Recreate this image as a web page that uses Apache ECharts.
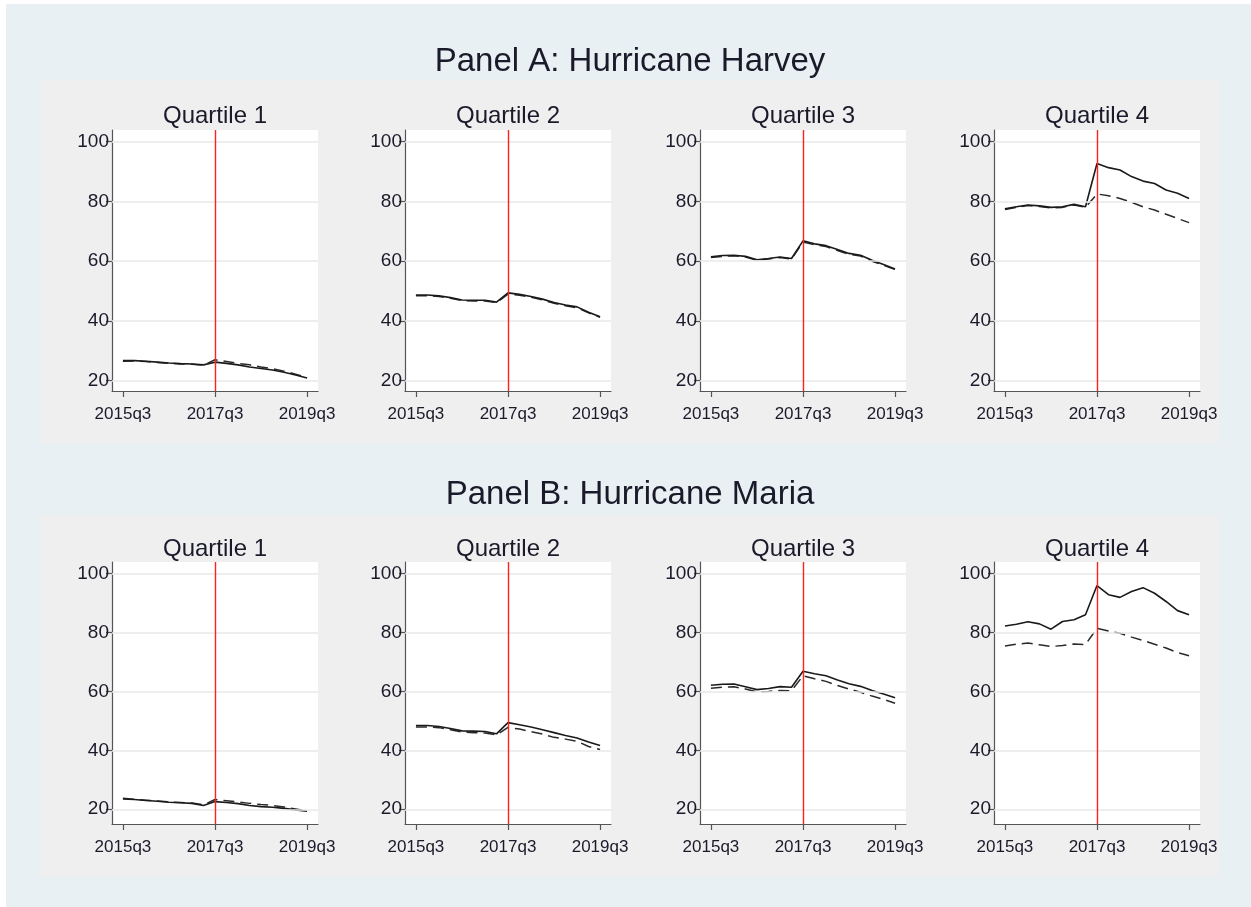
<!DOCTYPE html>
<html>
<head>
<meta charset="utf-8">
<script src="https://cdn.jsdelivr.net/npm/echarts@6/dist/echarts.min.js"></script>
<style>
html,body{margin:0;padding:0;background:#ffffff;}
#chart{width:1251px;height:907px;}
</style>
</head>
<body>
<div id="chart"></div>
<script>
// ---- data ----
const quarters = ['2015q3','2015q4','2016q1','2016q2','2016q3','2016q4','2017q1','2017q2','2017q3','2017q4','2018q1','2018q2','2018q3','2018q4','2019q1','2019q2','2019q3'];
const xTickLabels = ['2015q3','2017q3','2019q3'];
const yTickValues = [20, 40, 60, 80, 100];
const eventQuarter = '2017q3';
const panelTitles = ['Panel A: Hurricane Harvey', 'Panel B: Hurricane Maria'];
const quartileTitles = ['Quartile 1', 'Quartile 2', 'Quartile 3', 'Quartile 4'];

// Panel A: Hurricane Harvey
const harveyQ1Solid  = [26.7, 26.7, 26.5, 26.2, 25.9, 25.7, 25.6, 25.3, 26.2, 25.8, 25.3, 24.6, 24.1, 23.6, 22.8, 21.9, 20.9];
const harveyQ1Dashed = [26.5, 26.6, 26.4, 26.1, 25.8, 25.6, 25.5, 25.2, 27.0, 26.4, 25.8, 25.3, 24.6, 24.0, 23.2, 22.2, 21.0];
const harveyQ2Solid  = [48.7, 48.7, 48.4, 47.8, 47.0, 46.9, 46.9, 46.3, 49.4, 48.9, 48.2, 47.3, 46.2, 45.3, 44.7, 42.9, 41.4];
const harveyQ2Dashed = [48.4, 48.4, 48.2, 47.6, 46.8, 46.7, 46.7, 46.1, 49.0, 48.6, 47.9, 47.0, 45.9, 45.1, 44.4, 42.7, 41.2];
const harveyQ3Solid  = [61.5, 61.9, 62.0, 61.6, 60.5, 60.9, 61.4, 60.9, 66.8, 65.8, 65.2, 63.9, 62.6, 62.0, 60.3, 58.9, 57.4];
const harveyQ3Dashed = [61.2, 61.6, 61.8, 61.4, 60.3, 60.7, 61.2, 60.7, 66.4, 65.5, 64.9, 63.6, 62.3, 61.7, 60.0, 58.6, 57.2];
const harveyQ4Solid  = [77.5, 78.2, 78.8, 78.5, 78.0, 78.2, 79.0, 78.2, 92.7, 91.3, 90.5, 88.3, 86.8, 86.0, 83.8, 82.7, 81.0];
const harveyQ4Dashed = [77.3, 78.0, 78.6, 78.3, 77.8, 78.0, 78.8, 78.0, 82.5, 81.9, 81.0, 79.7, 78.2, 77.1, 75.7, 74.3, 72.9];

// Panel B: Hurricane Maria
const mariaQ1Solid   = [23.5, 23.3, 23.0, 22.7, 22.4, 22.2, 22.0, 21.3, 22.6, 22.3, 21.9, 21.3, 20.9, 20.7, 20.3, 19.8, 19.3];
const mariaQ1Dashed  = [23.7, 23.4, 23.1, 22.8, 22.5, 22.3, 22.1, 21.5, 23.3, 22.9, 22.5, 22.0, 21.6, 21.3, 20.8, 20.1, 19.4];
const mariaQ2Solid   = [48.4, 48.4, 48.1, 47.4, 46.6, 46.5, 46.4, 45.6, 49.4, 48.7, 47.9, 47.0, 46.0, 45.0, 44.2, 42.8, 41.6];
const mariaQ2Dashed  = [47.9, 47.9, 47.7, 47.0, 46.2, 46.0, 45.9, 45.2, 47.8, 47.2, 46.3, 45.5, 44.4, 43.8, 43.1, 41.3, 40.3];
const mariaQ3Solid   = [62.1, 62.4, 62.5, 61.6, 60.6, 61.0, 61.6, 61.4, 66.8, 66.0, 65.3, 63.9, 62.6, 61.7, 60.3, 59.1, 57.8];
const mariaQ3Dashed  = [61.1, 61.4, 61.6, 60.8, 59.8, 60.0, 60.3, 60.2, 65.3, 64.3, 63.4, 62.0, 60.8, 59.7, 58.4, 57.3, 56.0];
const mariaQ4Solid   = [82.2, 82.8, 83.6, 82.9, 81.1, 83.7, 84.3, 86.0, 95.9, 92.8, 91.9, 93.9, 95.2, 93.3, 90.5, 87.4, 86.0];
const mariaQ4Dashed  = [75.4, 76.0, 76.4, 75.8, 75.2, 75.6, 76.1, 75.9, 81.4, 80.5, 79.7, 78.4, 77.3, 76.0, 74.7, 73.2, 72.1];

// ---- layout / style ----
const FONT = '"Liberation Sans", Arial, sans-serif';
const TEXT = '#1a1a2a';
const plotLefts = [112, 405, 700, 994];
const plotWidth = 206;
const panels = [
  { title: panelTitles[0], titleTop: 45, subTop: 104, top: 130, height: 261, yMin: 16.55, yMax: 103.9,
    solid: [harveyQ1Solid, harveyQ2Solid, harveyQ3Solid, harveyQ4Solid],
    dashed: [harveyQ1Dashed, harveyQ2Dashed, harveyQ3Dashed, harveyQ4Dashed],
    bg: [41, 80, 1178, 363] },
  { title: panelTitles[1], titleTop: 478, subTop: 537, top: 562, height: 262, yMin: 15.0, yMax: 103.9,
    solid: [mariaQ1Solid, mariaQ2Solid, mariaQ3Solid, mariaQ4Solid],
    dashed: [mariaQ1Dashed, mariaQ2Dashed, mariaQ3Dashed, mariaQ4Dashed],
    bg: [41, 515, 1178, 362] }
];

const xTickIdx = xTickLabels.map(l => quarters.indexOf(l));
const eventIdx = quarters.indexOf(eventQuarter);
const toPts = arr => arr.map((v, i) => [i, v]);

const grids = [], xAxes = [], yAxes = [], series = [], titles = [];
const graphics = [
  { type: 'rect', shape: { x: 6, y: 4, width: 1245, height: 903 }, style: { fill: '#e8f0f3' }, z: -10 }
];

panels.forEach((p, pi) => {
  graphics.push({ type: 'rect', shape: { x: p.bg[0], y: p.bg[1], width: p.bg[2], height: p.bg[3] }, style: { fill: '#efefef' }, z: -9 });
  titles.push({ text: p.title, left: 630, top: p.titleTop, textAlign: 'center', padding: 0,
    textStyle: { fontFamily: FONT, fontSize: 33, fontWeight: 'normal', color: TEXT } });
  for (let q = 0; q < 4; q++) {
    const gi = pi * 4 + q;
    grids.push({ left: plotLefts[q], top: p.top, width: plotWidth, height: p.height,
      show: true, backgroundColor: '#ffffff', borderWidth: 0, containLabel: false });
    titles.push({ text: quartileTitles[q], left: plotLefts[q] + plotWidth / 2, top: p.subTop, textAlign: 'center', padding: 0,
      textStyle: { fontFamily: FONT, fontSize: 24, fontWeight: 'normal', color: TEXT } });
    xAxes.push({ type: 'value', gridIndex: gi, min: -0.95, max: 16.95,
      axisLine: { show: true, onZero: false, lineStyle: { color: '#555', width: 1.2 } },
      axisTick: { show: true, length: 6, customValues: xTickIdx, lineStyle: { color: '#555', width: 1.2 } },
      axisLabel: { customValues: xTickIdx, formatter: v => quarters[Math.round(v)], margin: 15,
        fontFamily: FONT, fontSize: 17, color: TEXT, showMinLabel: true, showMaxLabel: true },
      splitLine: { show: false } });
    yAxes.push({ type: 'value', gridIndex: gi, min: p.yMin, max: p.yMax,
      axisLine: { show: true, onZero: false, lineStyle: { color: '#555', width: 1.2 } },
      axisTick: { show: true, length: 6, customValues: yTickValues, lineStyle: { color: '#555', width: 1.2 } },
      axisLabel: { customValues: yTickValues, margin: 3, fontFamily: FONT, fontSize: 19, color: TEXT },
      splitLine: { show: false } });
    // gridlines
    series.push({ type: 'line', xAxisIndex: gi, yAxisIndex: gi, data: [], silent: true, z: 1,
      markLine: { silent: true, symbol: 'none', label: { show: false }, animation: false,
        lineStyle: { color: '#e9e9e9', width: 1.6, type: 'solid' },
        data: yTickValues.map(v => ({ yAxis: v })) } });
    series.push({ type: 'line', xAxisIndex: gi, yAxisIndex: gi, data: toPts(p.dashed[q]), showSymbol: false, symbol: 'none',
      silent: true, z: 3, animation: false, lineStyle: { color: '#2a2a2a', width: 1.5, type: [11, 6] } });
    series.push({ type: 'line', xAxisIndex: gi, yAxisIndex: gi, data: toPts(p.solid[q]), showSymbol: false, symbol: 'none',
      silent: true, z: 4, animation: false, lineStyle: { color: '#1a1a1a', width: 1.6, type: 'solid' } });
    // event line
    series.push({ type: 'line', xAxisIndex: gi, yAxisIndex: gi, data: [], silent: true, z: 5,
      markLine: { silent: true, symbol: 'none', label: { show: false }, animation: false,
        lineStyle: { color: '#ff2020', width: 1.4, type: 'solid' },
        data: [{ xAxis: eventIdx }] } });
  }
});

const chart = echarts.init(document.getElementById('chart'), null, { renderer: 'canvas' });
chart.setOption({
  animation: false,
  backgroundColor: '#ffffff',
  title: titles,
  grid: grids,
  xAxis: xAxes,
  yAxis: yAxes,
  graphic: graphics,
  series: series
});
</script>
</body>
</html>
